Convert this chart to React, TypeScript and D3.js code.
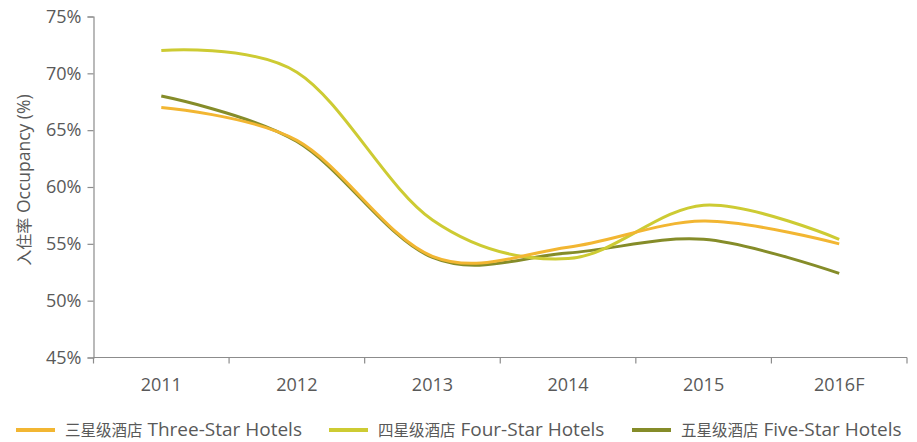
import React, { useEffect, useRef } from 'react';
import * as d3 from 'd3';

const years = ['2011', '2012', '2013', '2014', '2015', '2016F'];
const threeStar = [67, 64.1, 53.9, 54.7, 57, 55];
const fourStar = [72, 70.1, 57.1, 53.7, 58.4, 55.4];
const fiveStar = [68, 64, 53.8, 54.2, 55.4, 52.4];
const yTicks = [45, 50, 55, 60, 65, 70, 75];

const seriesCn = ['三星级酒店', '四星级酒店', '五星级酒店'];
const seriesEn = ['Three-Star Hotels', 'Four-Star Hotels', 'Five-Star Hotels'];
const seriesColors = ['#F2B632', '#CDCB33', '#858C29'];

const FONT = '"Open Sans", "Noto Sans CJK SC", sans-serif';
const CJK = '"Noto Sans CJK SC", sans-serif';
const TEXT = '#595959';
const AXIS = '#8c8c8c';

const App = () => {
  const ref = useRef<SVGSVGElement>(null);

  useEffect(() => {
    const svg = d3.select(ref.current);
    svg.selectAll('*').remove();

    const left = 93.5, right = 907, top = 16.5, bottom = 357.5;

    const x = d3.scaleBand().domain(years).range([left, right]);
    const y = d3.scaleLinear().domain([45, 75]).range([bottom, top]);

    // y axis
    const yAxis = svg.append('g')
      .attr('transform', `translate(${left},0)`)
      .call(d3.axisLeft(y).tickValues(yTicks).tickSize(6).tickPadding(6).tickFormat(d => `${d}%`));
    yAxis.select('.domain').attr('stroke', AXIS).attr('stroke-width', 1.2);
    yAxis.selectAll('.tick line').attr('stroke', AXIS).attr('stroke-width', 1.2);
    yAxis.selectAll('.tick text')
      .attr('fill', TEXT).attr('font-size', 18).attr('font-family', FONT);

    // x axis: ticks on band edges
    const xAxis = svg.append('g').attr('transform', `translate(0,${bottom})`);
    xAxis.append('line')
      .attr('x1', left).attr('x2', right)
      .attr('stroke', AXIS).attr('stroke-width', 1.2);
    const edges = years.map(d => x(d)!).concat([right]);
    xAxis.selectAll('line.edge').data(edges).join('line')
      .attr('class', 'edge')
      .attr('x1', d => d).attr('x2', d => d)
      .attr('y1', 0).attr('y2', 6)
      .attr('stroke', AXIS).attr('stroke-width', 1.2);
    xAxis.selectAll('text').data(years).join('text')
      .attr('x', d => x(d)! + x.bandwidth() / 2)
      .attr('y', 33.5)
      .attr('text-anchor', 'middle')
      .attr('fill', TEXT).attr('font-size', 18).attr('font-family', FONT)
      .text(d => d);

    // y title
    const title = svg.append('text')
      .attr('transform', `translate(23,${180}) rotate(-90)`)
      .attr('text-anchor', 'middle')
      .attr('dominant-baseline', 'central')
      .attr('fill', TEXT).attr('font-family', FONT);
    title.append('tspan').attr('font-family', CJK).attr('font-size', 16).text('入住率');
    title.append('tspan').attr('font-size', 17.5).text(' Occupancy (%)');

    const line = d3.line<number>()
      .x((_, i) => x(years[i])! + x.bandwidth() / 2)
      .y(d => y(d))
      .curve(d3.curveCardinal);

    const all = [threeStar, fourStar, fiveStar];
    // draw five-star first, then four, then three-star on top
    [2, 1, 0].forEach(i => {
      svg.append('path')
        .datum(all[i])
        .attr('fill', 'none')
        .attr('stroke', seriesColors[i])
        .attr('stroke-width', 3)
        .attr('d', line);
    });

    // legend
    const legendX = [16, 329, 632];
    const legend = svg.append('g').attr('transform', 'translate(0,428.5)');
    seriesCn.forEach((cn, i) => {
      legend.append('line')
        .attr('x1', legendX[i]).attr('x2', legendX[i] + 39)
        .attr('y1', 1.5).attr('y2', 1.5)
        .attr('stroke', seriesColors[i]).attr('stroke-width', 4);
      const t = legend.append('text')
        .attr('x', legendX[i] + 49)
        .attr('dominant-baseline', 'central')
        .attr('fill', TEXT).attr('font-family', FONT);
      t.append('tspan').attr('font-family', CJK).attr('font-size', 15.5).text(cn);
      t.append('tspan').attr('font-size', 19).text(' ' + seriesEn[i]);
    });
  }, []);

  return (
    <svg ref={ref} width={917} height={442} style={{ position: 'absolute', left: 0, top: 0 }}></svg>
  );
};

export default App;
